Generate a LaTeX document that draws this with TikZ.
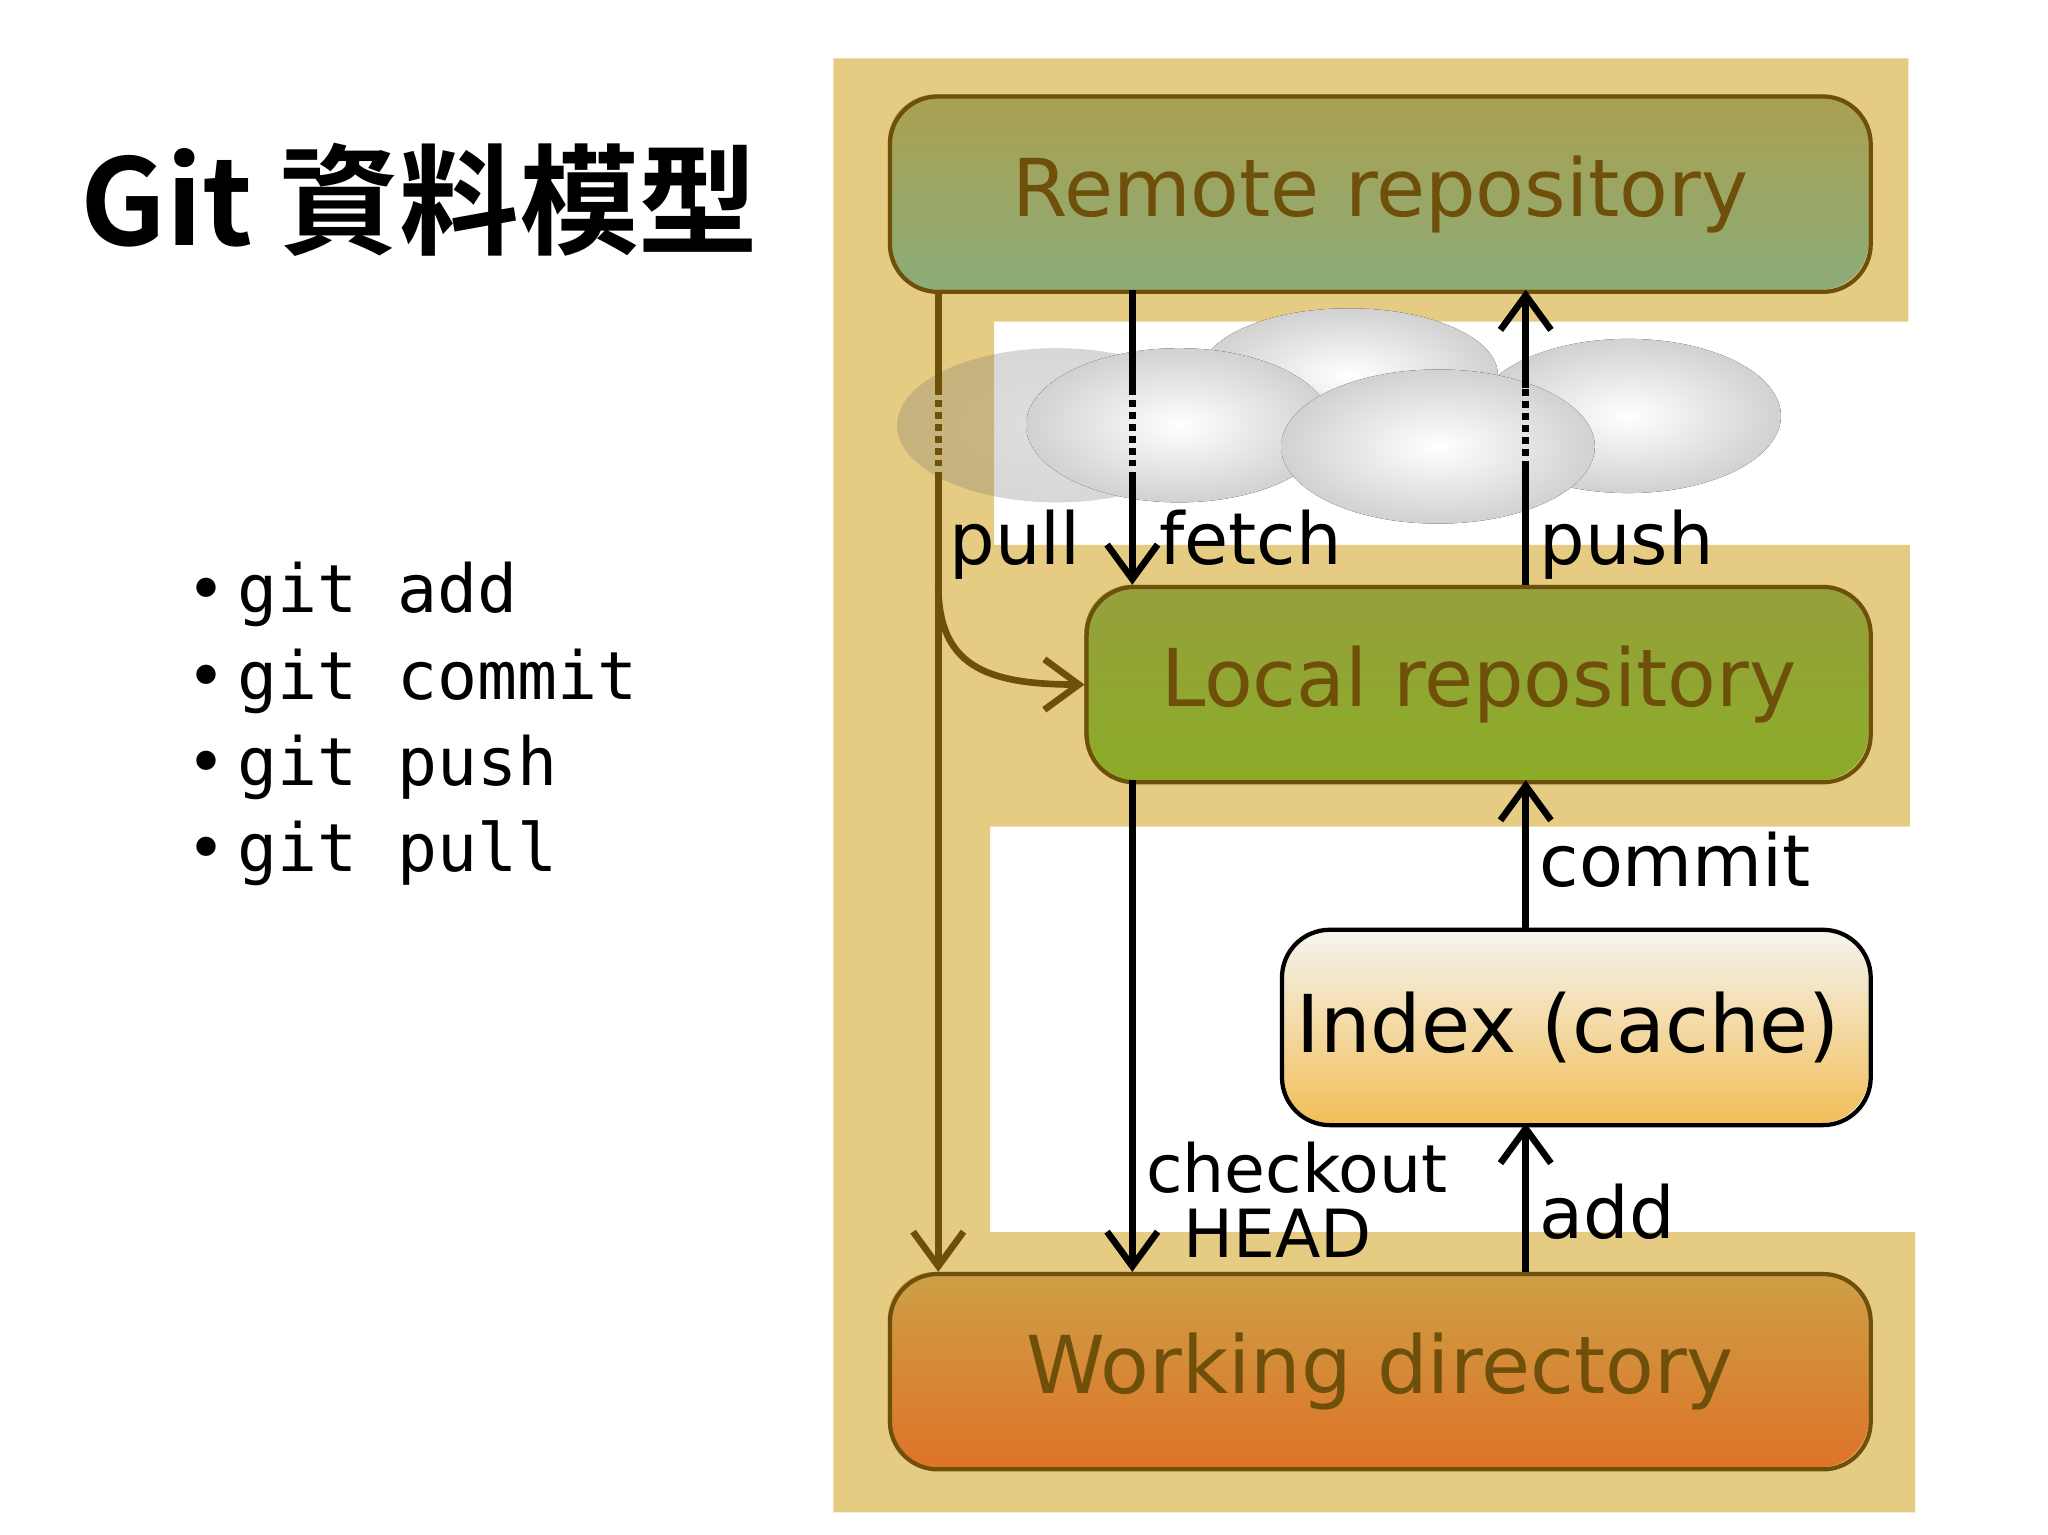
\documentclass[tikz,border=0pt]{standalone}
\usepackage{fontspec}
\setmainfont{DejaVu Sans}
\newfontfamily\cjk{Noto Sans CJK TC Bold}
\newfontfamily\monof{DejaVu Sans Mono}
\usetikzlibrary{arrows.meta}
\definecolor{tan}{RGB}{230,204,130}
\definecolor{brn}{RGB}{110,80,10}
\definecolor{rT}{RGB}{170,160,80}\definecolor{rB}{RGB}{140,172,120}
\definecolor{lT}{RGB}{150,160,60}\definecolor{lB}{RGB}{140,172,40}
\definecolor{iT}{RGB}{245,245,240}\definecolor{iB}{RGB}{242,190,90}
\definecolor{wT}{RGB}{205,160,70}\definecolor{wB}{RGB}{222,115,40}
\begin{document}
\begin{tikzpicture}[x=0.5pt,y=-0.5pt,
 box/.style={draw=brn,line width=1.6pt,rounded corners=18pt,anchor=north west,inner sep=0},
 btxt/.style={text=brn,font=\fontsize{30}{30}\selectfont},
 lbl/.style={font=\fontsize{27}{27}\selectfont,anchor=base west,inner sep=0},
 arr/.style={line width=2.5pt,-{Straight Barb[length=13pt,width=19pt,line width=2.5pt]}},
 cl/.style={shading=radial,inner color=white,outer color=black!18}]
\useasboundingbox (0,0) rectangle (1541,1155);
\fill[white] (0,0) rectangle (1541,1155);
% background
\fill[tan] (627,44) -- (1436,44) -- (1436,242) -- (748,242) -- (748,410) -- (1437,410) -- (1437,622) -- (745,622) -- (745,927) -- (1441,927) -- (1441,1138) -- (627,1138) -- cycle;
% title and bullets
\node[anchor=base west,inner sep=0,font=\fontsize{45}{45}\selectfont\cjk] (title) at (60,185) {Git 資料模型};
\foreach \t/\y [count=\i] in {git add/461,git commit/526,git push/591,git pull/656}
  \node[anchor=base west,inner sep=0,font=\fontsize{25}{25}\selectfont\monof] (b\i) at (140,\y) {•\,\t};
% boxes
\shade[top color=rT, bottom color=rB,rounded corners=18pt] (668,71) rectangle (1406,218);
\shade[top color=lT, bottom color=lB,rounded corners=18pt] (816,440) rectangle (1406,587);
\shade[top color=iT, bottom color=iB,rounded corners=18pt] (963,698) rectangle (1406,845);
\shade[top color=wT, bottom color=wB,rounded corners=18pt] (668,957) rectangle (1406,1104);
\node[box,minimum width=369pt,minimum height=73.5pt] (remote) at (668,71) {};
\node[box,minimum width=295pt,minimum height=73.5pt] (local) at (816,440) {};
\node[box,draw=black,minimum width=221.5pt,minimum height=73.5pt] (index) at (963,698) {};
\node[box,minimum width=369pt,minimum height=73.5pt] (work) at (668,957) {};
\node[btxt] at (remote.center) {Remote repository};
\node[btxt] at (local.center) {Local repository};
\node[font=\fontsize{30}{30}\selectfont] at ([xshift=-3pt]index.center) {Index (cache)};
\node[btxt] at (work.center) {Working directory};
% clouds
\fill[cl,opacity=0.15] (795,320) ellipse (120 and 58);
\fill[cl] (1015,282) ellipse (112 and 50);
\fill[cl] (1225,313) ellipse (115 and 58);
\fill[cl] (887,320) ellipse (115 and 58);
\fill[cl] (1082,336) ellipse (118 and 58);
% coordinates
\coordinate (p0) at (706,218); \coordinate (p1) at (706,292); \coordinate (p2) at (706,358); \coordinate (p3) at (706,957);
\coordinate (f0) at (852,218); \coordinate (f1) at (852,292); \coordinate (f2) at (852,358); \coordinate (f3) at (852,440);
\coordinate (u0) at (1148,440); \coordinate (u1) at (1148,352); \coordinate (u2) at (1148,292); \coordinate (u3) at (1148,218);
\coordinate (c0) at (852,587); \coordinate (c1) at (852,957);
\coordinate (m0) at (1148,698); \coordinate (m1) at (1148,587);
\coordinate (a0) at (1148,957); \coordinate (a1) at (1148,845);
\coordinate (q0) at (706,440);
% arrows
\draw[brn,line width=2.5pt] (p0) -- (p1);
\draw[brn,line width=2.5pt,dotted] (p1) -- (p2);
\draw[brn,arr] (p2) -- (p3);
\draw[brn,arr] (q0) .. controls (706,500) and (740,515) .. (local.west);
\draw[line width=2.5pt] (f0) -- (f1);
\draw[line width=2.5pt,dotted] (f1) -- (f2);
\draw[arr] (f2) -- (f3);
\draw[line width=2.5pt] (u0) -- (u1);
\draw[line width=2.5pt,dotted] (u1) -- (u2);
\draw[arr] (u2) -- (u3);
\draw[arr] (c0) -- (c1);
\draw[arr] (m0) -- (m1);
\draw[arr] (a0) -- (a1);
% labels
\node[lbl] (lp) at (714,425) {pull};
\node[lbl] (lf) at (872,425) {fetch};
\node[lbl] (lu) at (1158,425) {push};
\node[lbl] (lc) at (1158,667) {commit};
\node[lbl,font=\fontsize{25}{25}\selectfont] (lk) at (862,897) {checkout};
\node[lbl,font=\fontsize{25}{25}\selectfont] (lh) at (890,946) {HEAD};
\node[lbl] (la) at (1158,932) {add};
\end{tikzpicture}
\end{document}
